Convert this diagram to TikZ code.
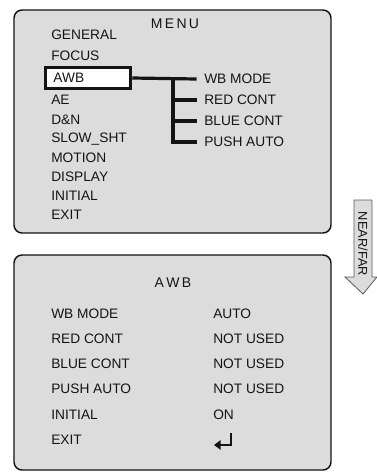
\documentclass[tikz,border=0pt]{standalone}
\usepackage{fontspec}
\setmainfont{Liberation Sans}
\usetikzlibrary{arrows.meta}

\definecolor{panel}{RGB}{220,220,220}
\definecolor{ink}{RGB}{20,20,20}

\tikzset{
  panelbox/.style={draw=ink, fill=panel, line width=1.1pt, rounded corners=6pt},
  item/.style={anchor=west, inner sep=0pt, text=ink, font=\fontsize{10.3}{12}\selectfont},
  title/.style={inner sep=0pt, text=ink, font=\fontsize{10.5}{12}\selectfont},
  branch/.style={line width=2.4pt, ink}
}

\begin{document}
\begin{tikzpicture}[x=0.75pt, y=-0.75pt]
            \useasboundingbox (0,0) rectangle (377,472);

            % upper panel: MENU
            \draw[panelbox] (14,10) rectangle (331,233);
            \node[title] (M) at (175,24) {M\,E\,N\,U};
            \node[item] (G) at (51,35) {GENERAL};
            \node[item] (F) at (51,56) {FOCUS};
            \node[item, draw=ink, fill=white, line width=2.2pt, text width=52pt, align=left,
                  inner xsep=6pt, minimum height=21pt*0.75] (A) at (44,78) {AWB};
            \node[item] (AE) at (51,100) {AE};
            \node[item] (DN) at (51,120) {D\&N};
            \node[item] (S) at (51,139) {SLOW\_SHT};
            \node[item] (MO) at (51,158) {MOTION};
            \node[item] (DI) at (51,177) {DISPLAY};
            \node[item] (IN) at (51,196) {INITIAL};
            \node[item] (EX) at (51,215) {EXIT};

            \node[item] (B1) at (204,79) {WB MODE};
            \node[item] (B2) at (204,100) {RED CONT};
            \node[item] (B3) at (204,121) {BLUE CONT};
            \node[item] (B4) at (204,142) {PUSH AUTO};

            \coordinate (T) at (173,79);
            \draw[branch] (A.east) -- ([xshift=-5.5pt]B1.west);
            \draw[branch] (T) |- ([xshift=-5.5pt]B4.west);
            \draw[branch] (T |- B2) -- ([xshift=-5.5pt]B2.west);
            \draw[branch] (T |- B3) -- ([xshift=-5.5pt]B3.west);

            % NEAR/FAR key
            \draw[draw=ink!70, fill=panel, line width=0.6pt]
                (354,200) -- (372,200) -- (372,277) -- (377,277) -- (363,294)
                -- (345,277) -- (354,277) -- cycle;
            \node[rotate=-90, inner sep=0pt, text=ink, font=\fontsize{9.6}{10}\selectfont] (K) at (363,244) {NEAR/FAR};

            % lower panel: AWB
            \draw[panelbox] (14,255) rectangle (331,470);
            \node[title] (T2) at (173,283) {A\,W\,B};
            \node[item] (L1) at (51,314) {WB MODE};
            \node[item] (L2) at (51,339) {RED CONT};
            \node[item] (L3) at (51,364) {BLUE CONT};
            \node[item] (L4) at (51,389) {PUSH AUTO};
            \node[item] (L5) at (51,415) {INITIAL};
            \node[item] (L6) at (51,440) {EXIT};
            \node[item] (R1) at (213,314) {AUTO};
            \node[item] (R2) at (213,339) {NOT USED};
            \node[item] (R3) at (213,364) {NOT USED};
            \node[item] (R4) at (213,389) {NOT USED};
            \node[item] (R5) at (213,415) {ON};
            \coordinate (R6) at (231,433);
            \draw[ink, line width=2pt, -{Triangle[length=5pt, width=7pt]}] (R6) -- ++(0,12) -- ++(-17,0);
        \end{tikzpicture}
\end{document}
